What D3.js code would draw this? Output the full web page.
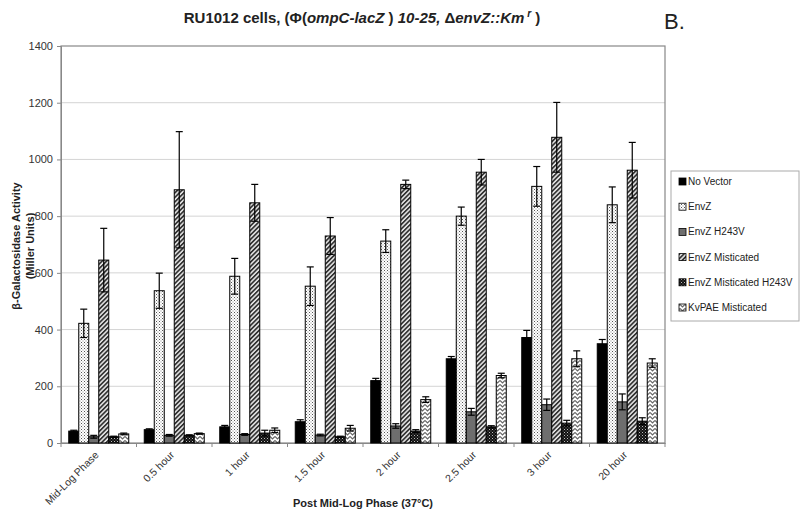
<!DOCTYPE html>
<html><head><meta charset="utf-8">
<script src="https://cdn.jsdelivr.net/npm/d3@7/dist/d3.min.js"></script>
<style>body{margin:0;background:#fff}svg{font-family:"Liberation Sans",Arial,sans-serif}</style>
</head><body><svg id="c" width="800" height="512"></svg>
<script>
const categories = ["Mid-Log Phase","0.5 hour","1 hour","1.5 hour","2 hour","2.5 hour","3 hour","20 hour"];
const seriesNames = ["No Vector","EnvZ","EnvZ H243V","EnvZ Misticated","EnvZ Misticated H243V","KvPAE Misticated"];
const noVector     = [42, 47, 57, 75, 220, 297, 372, 350];
const noVectorErr  = [3, 3, 5, 7, 8, 8, 25, 15];
const envZ         = [422, 537, 588, 553, 712, 800, 905, 840];
const envZErr      = [50, 62, 63, 68, 40, 32, 70, 63];
const envZH243V    = [22, 27, 30, 28, 60, 110, 135, 145];
const envZH243VErr = [5, 3, 3, 3, 8, 12, 20, 28];
const mist         = [645, 893, 847, 730, 912, 955, 1078, 962];
const mistErr      = [112, 205, 65, 65, 15, 45, 123, 98];
const mistH243V    = [22, 27, 35, 22, 42, 57, 70, 77];
const mistH243VErr = [2, 2, 10, 2, 5, 4, 10, 12];
const kvpae        = [32, 33, 45, 52, 153, 238, 297, 282];
const kvpaeErr     = [3, 2, 8, 10, 10, 8, 28, 15];
const yTicks = [0,200,400,600,800,1000,1200,1400];

const values = [noVector, envZ, envZH243V, mist, mistH243V, kvpae];
const errors = [noVectorErr, envZErr, envZH243VErr, mistErr, mistH243VErr, kvpaeErr];

const svg = d3.select("#c");
const defs = svg.append("defs");
// patterns
let p = defs.append("pattern").attr("id","p1").attr("patternUnits","userSpaceOnUse").attr("width",3).attr("height",3);
p.append("rect").attr("width",3).attr("height",3).attr("fill","#fff");
p.append("rect").attr("x",0).attr("y",0).attr("width",1).attr("height",1).attr("fill","#555");
p.append("rect").attr("x",1.5).attr("y",1.5).attr("width",1).attr("height",1).attr("fill","#888");
p = defs.append("pattern").attr("id","p3").attr("patternUnits","userSpaceOnUse").attr("width",3.2).attr("height",3.2).attr("patternTransform","rotate(45)");
p.append("rect").attr("width",3.2).attr("height",3.2).attr("fill","#e8e8e8");
p.append("rect").attr("width",1.7).attr("height",3.2).attr("fill","#333");
p = defs.append("pattern").attr("id","p4").attr("patternUnits","userSpaceOnUse").attr("width",3).attr("height",3);
p.append("rect").attr("width",3).attr("height",3).attr("fill","#111");
p.append("rect").attr("x",0).attr("y",0).attr("width",1).attr("height",1).attr("fill","#bbb");
p.append("rect").attr("x",1.5).attr("y",1.5).attr("width",1).attr("height",1).attr("fill","#777");
p = defs.append("pattern").attr("id","p5").attr("patternUnits","userSpaceOnUse").attr("width",5).attr("height",4);
p.append("rect").attr("width",5).attr("height",4).attr("fill","#fff");
p.append("path").attr("d","M0,0.5 L2.5,3 L5,0.5").attr("fill","none").attr("stroke","#666").attr("stroke-width",1.2);
const fills = ["#000","url(#p1)","#6e6e6e","url(#p3)","url(#p4)","url(#p5)"];

const L=61, R=665, T=46, B=443;
const x0 = d3.scaleBand().domain(categories).range([L,R]).paddingInner(0).paddingOuter(0);
const x1 = d3.scaleBand().domain(seriesNames).range([7.75, x0.bandwidth()-7.75]).padding(0);
const y = d3.scaleLinear().domain([0,1400]).range([B,T]);

// grid
svg.append("g").selectAll("line").data(yTicks.filter(d=>d>0&&d<1400)).join("line")
  .attr("x1",L).attr("x2",R).attr("y1",d=>y(d)).attr("y2",d=>y(d)).attr("stroke","#d4d4d4").attr("stroke-width",1);
// frame
svg.append("rect").attr("x",L).attr("y",T).attr("width",R-L).attr("height",B-T).attr("fill","none").attr("stroke","#888").attr("stroke-width",1.2);

// y axis
const yAxis = d3.axisLeft(y).tickValues(yTicks).tickSize(4).tickPadding(4).tickFormat(d3.format("d"));
const ga = svg.append("g").attr("transform",`translate(${L},0)`).call(yAxis);
ga.select(".domain").attr("stroke","#888");
ga.selectAll(".tick line").attr("stroke","#888");
ga.selectAll("text").attr("font-size",11).attr("fill","#333").style("font-family","Liberation Sans, Arial");

// x axis
const xAxis = d3.axisBottom(x0).tickSize(0).tickFormat("");
const gx = svg.append("g").attr("transform",`translate(0,${B})`).call(xAxis);
gx.select(".domain").attr("stroke","#888");
svg.append("g").selectAll("line").data(categories.concat(["_end"])).join("line")
  .attr("x1",(d,i)=>i<categories.length?x0(d):R).attr("x2",(d,i)=>i<categories.length?x0(d):R)
  .attr("y1",B).attr("y2",B+4).attr("stroke","#888");
svg.append("g").selectAll("text").data(categories).join("text")
  .attr("transform",d=>`translate(${x0(d)+x0.bandwidth()/2-2},${B+10}) rotate(-45)`)
  .attr("text-anchor","end").attr("dy","0.35em").attr("font-size",10.5).attr("fill","#333").text(d=>d);

// bars
const gb = svg.append("g");
seriesNames.forEach((s,si)=>{
  const g = gb.append("g");
  g.selectAll("rect").data(categories).join("rect")
    .attr("x",c=>x0(c)+x1(s)).attr("width",x1.bandwidth())
    .attr("y",(c,i)=>y(values[si][i])).attr("height",(c,i)=>B-y(values[si][i]))
    .attr("fill",fills[si]).attr("stroke","#000").attr("stroke-width",1);
  const eg = g.append("g");
  categories.forEach((c,i)=>{
    const cx = x0(c)+x1(s)+x1.bandwidth()/2;
    const v = values[si][i], e = errors[si][i];
    eg.append("line").attr("x1",cx).attr("x2",cx).attr("y1",y(v+e)).attr("y2",y(Math.max(0,v-e))).attr("stroke","#000").attr("stroke-width",1.2);
    [v+e, Math.max(0,v-e)].forEach(vv=>{
      eg.append("line").attr("x1",cx-3.5).attr("x2",cx+3.5).attr("y1",y(vv)).attr("y2",y(vv)).attr("stroke","#000").attr("stroke-width",1.2);
    });
  });
});

// y title
const yt = svg.append("text").attr("transform","translate(20,246) rotate(-90)").attr("text-anchor","middle")
  .attr("font-size",11).attr("font-weight","bold").attr("fill","#222");
yt.append("tspan").attr("x",0).attr("dy",0).text("β-Galactosidase Activity");
yt.append("tspan").attr("x",0).attr("dy",14).text("(Miller Units)");

// x title
svg.append("text").attr("x",363).attr("y",507).attr("text-anchor","middle").attr("font-size",11).attr("font-weight","bold").attr("fill","#222").text("Post Mid-Log Phase (37°C)");

// main title
const tt = svg.append("text").attr("x",362).attr("y",23).attr("text-anchor","middle").attr("font-size",15).attr("font-weight","bold").attr("fill","#222");
tt.append("tspan").text("RU1012 cells, (Φ(");
tt.append("tspan").attr("font-style","italic").text("ompC-lacZ");
tt.append("tspan").text(" ) ");
tt.append("tspan").attr("font-style","italic").text("10-25,  ");
tt.append("tspan").text("Δ");
tt.append("tspan").attr("font-style","italic").text("envZ::Km");
tt.append("tspan").attr("font-style","italic").attr("font-size",10).attr("dy",-6).text(" r");
tt.append("tspan").attr("dy",6).text(" )");
svg.append("text").attr("x",664).attr("y",29).attr("font-size",22).attr("fill","#222").text("B.");

// legend
const lg = svg.append("g");
lg.append("rect").attr("x",671).attr("y",171).attr("width",128).attr("height",150).attr("fill","#fff").attr("stroke","#aaa");
seriesNames.forEach((s,i)=>{
  const yy = 185 + i*25.2;
  lg.append("rect").attr("x",679).attr("y",yy-7).attr("width",7).attr("height",7).attr("fill",fills[i]).attr("stroke","#000").attr("stroke-width",0.8);
  lg.append("text").attr("x",688).attr("y",yy).attr("font-size",10).attr("fill","#222").text(s);
});
</script></body></html>
